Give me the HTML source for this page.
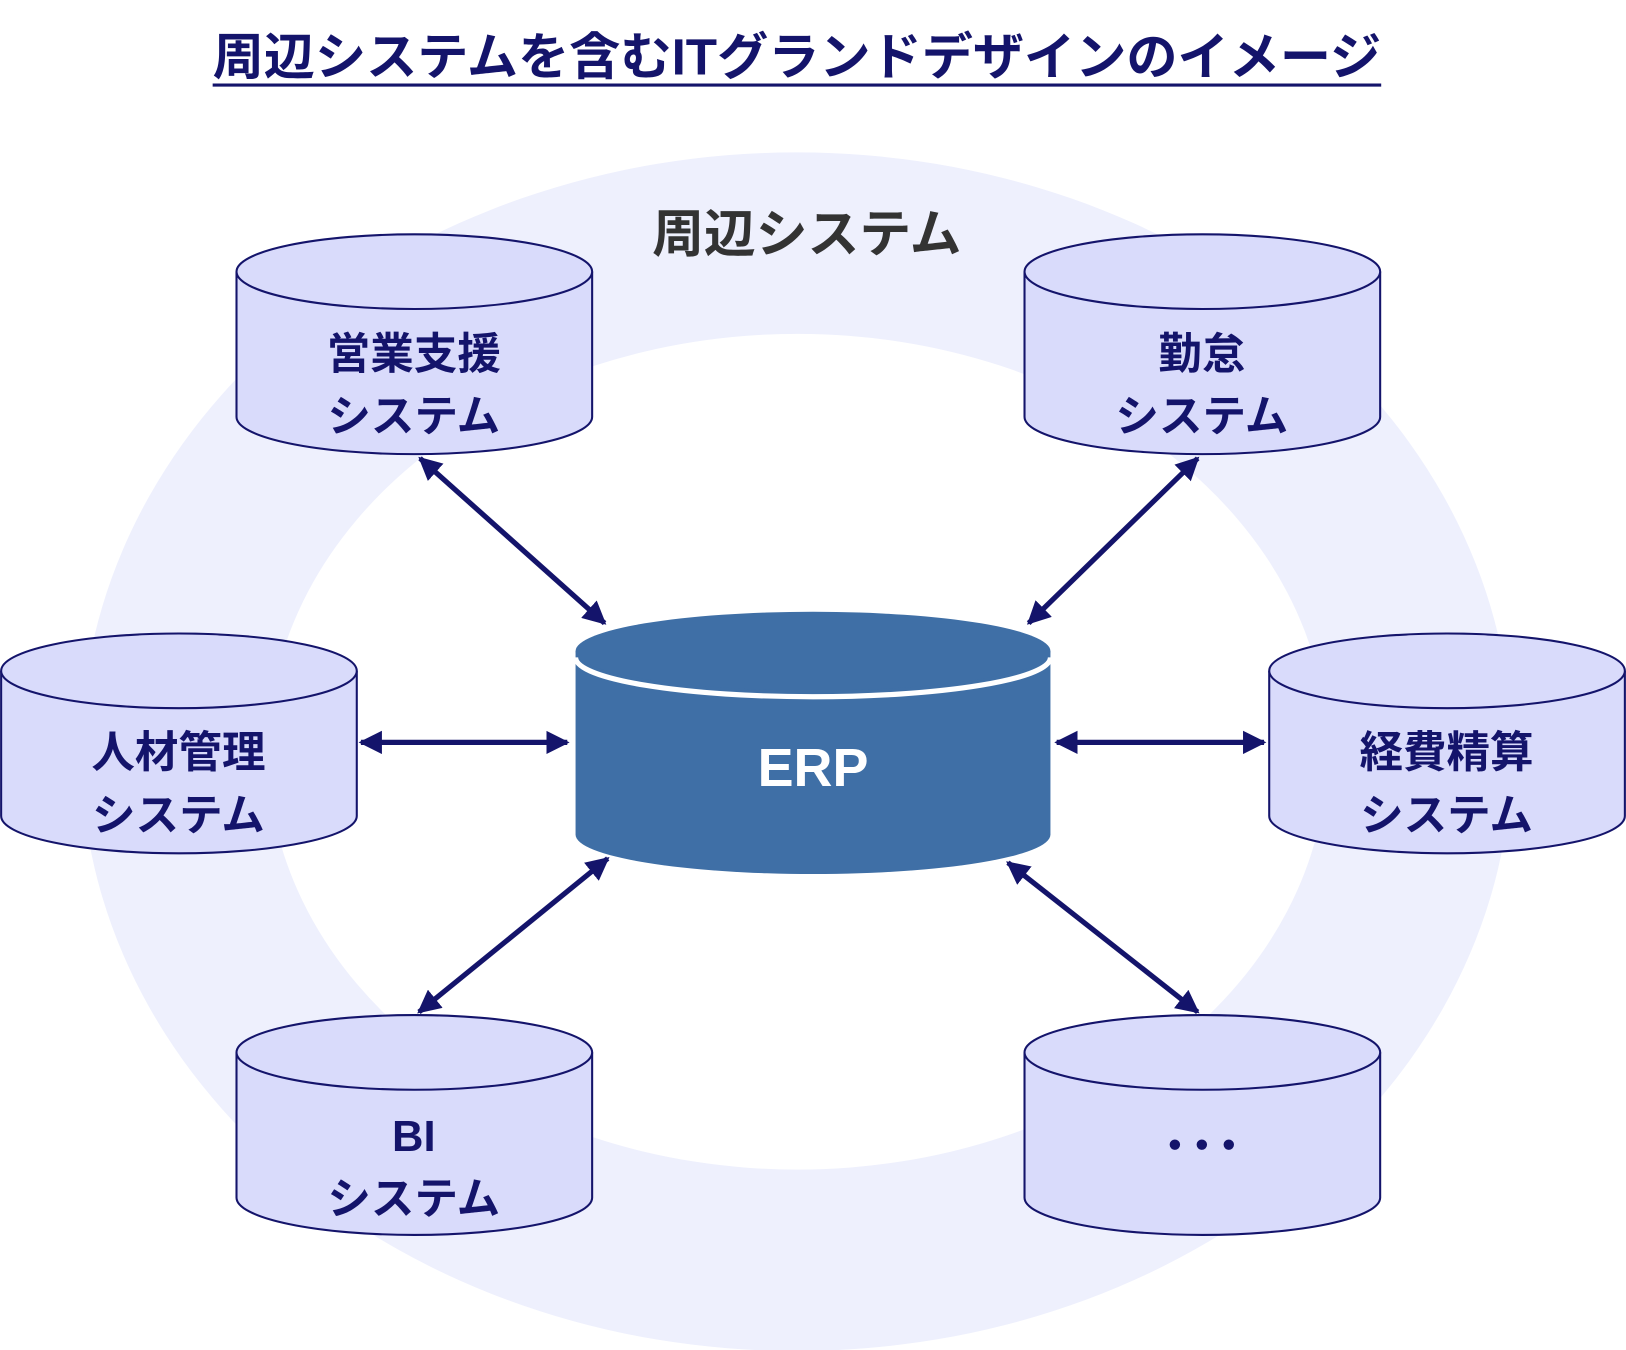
<!DOCTYPE html>
<html><head><meta charset="utf-8"><style>
html,body{margin:0;padding:0;background:#fff;}
svg{display:block;}
text{font-family:"Liberation Sans","Noto Sans CJK JP",sans-serif;font-weight:bold;}
</style></head><body>
<svg width="1626" height="1350" viewBox="0 0 1568 1302" xmlns="http://www.w3.org/2000/svg">
<defs>
<marker id="ah" viewBox="0 0 10 10" refX="9" refY="5" markerWidth="4.5" markerHeight="4.5" orient="auto-start-reverse">
<path d="M0,0 L10,5 L0,10 z" fill="#14146b"/>
</marker>
</defs>
<path fill="#eef0fd" fill-rule="evenodd" d="M78,725 a690,578 0 1,0 1380,0 a690,578 0 1,0 -1380,0 Z M258,725 a511,403 0 1,0 1022,0 a511,403 0 1,0 -1022,0 Z"/>
<text x="205" y="72" font-size="49" fill="#14146b" textLength="1127" lengthAdjust="spacingAndGlyphs">周辺システムを含むITグランドデザインのイメージ</text>
<line x1="205" y1="82" x2="1332" y2="82" stroke="#14146b" stroke-width="3"/>
<text x="778" y="243" text-anchor="middle" font-size="50" fill="#333">周辺システム</text>

<g fill="#d9dbfb" stroke="#14146b" stroke-width="2">
<path d="M228,262 v140 a171.5,36 0 0,0 343,0 v-140"/><ellipse cx="399.5" cy="262" rx="171.5" ry="36"/>
<path d="M988,262 v140 a171.5,36 0 0,0 343,0 v-140"/><ellipse cx="1159.5" cy="262" rx="171.5" ry="36"/>
<path d="M1,647 v140 a171.5,36 0 0,0 343,0 v-140"/><ellipse cx="172.5" cy="647" rx="171.5" ry="36"/>
<path d="M1224,647 v140 a171.5,36 0 0,0 343,0 v-140"/><ellipse cx="1395.5" cy="647" rx="171.5" ry="36"/>
<path d="M228,1015 v140 a171.5,36 0 0,0 343,0 v-140"/><ellipse cx="399.5" cy="1015" rx="171.5" ry="36"/>
<path d="M988,1015 v140 a171.5,36 0 0,0 343,0 v-140"/><ellipse cx="1159.5" cy="1015" rx="171.5" ry="36"/>
</g>
<g font-size="42" fill="#14146b" text-anchor="middle">
<text x="399" y="356">営業支援</text><text x="399" y="416">システム</text>
<text x="1159" y="356">勤怠</text><text x="1159" y="416">システム</text>
<text x="172" y="740">人材管理</text><text x="172" y="801">システム</text>
<text x="1395" y="740">経費精算</text><text x="1395" y="801">システム</text>
<text x="399" y="1110">BI</text><text x="399" y="1171">システム</text>
</g>
<g fill="#14146b"><circle cx="1133" cy="1104" r="5"/><circle cx="1159" cy="1104" r="5"/><circle cx="1185" cy="1104" r="5"/></g>

<path d="M555,628 v177 a229,38 0 0,0 458,0 v-177 z" fill="#3f6fa6"/>
<ellipse cx="784" cy="628" rx="229" ry="38" fill="#3f6fa6"/>
<path d="M555,634 a229,38 0 0,0 458,0" fill="none" stroke="#fff" stroke-width="5"/>
<text x="784" y="758" text-anchor="middle" font-size="52" fill="#fff">ERP</text>

<g stroke="#14146b" stroke-width="5" marker-start="url(#ah)" marker-end="url(#ah)">
<line x1="405" y1="442" x2="583" y2="601"/>
<line x1="1155" y1="442" x2="992" y2="601"/>
<line x1="348" y1="716" x2="547" y2="716"/>
<line x1="1019" y1="716" x2="1219" y2="716"/>
<line x1="586" y1="828" x2="404" y2="976"/>
<line x1="972" y1="832" x2="1155" y2="976"/>
</g>
</svg>
</body></html>
